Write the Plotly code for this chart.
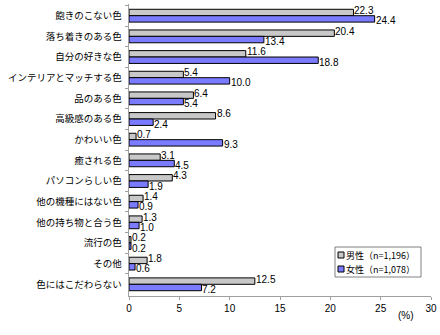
import plotly.graph_objects as go

# 色を選ぶ際に重視する点（%）
categories = [
    "飽きのこない色", "落ち着きのある色", "自分の好きな色", "インテリアとマッチする色",
    "品のある色", "高級感のある色", "かわいい色", "癒される色", "パソコンらしい色",
    "他の機種にはない色", "他の持ち物と合う色", "流行の色", "その他", "色にはこだわらない",
]
male = [22.3, 20.4, 11.6, 5.4, 6.4, 8.6, 0.7, 3.1, 4.3, 1.4, 1.3, 0.2, 1.8, 12.5]
female = [24.4, 13.4, 18.8, 10.0, 5.4, 2.4, 9.3, 4.5, 1.9, 0.9, 1.0, 0.2, 0.6, 7.2]
male_name = "男性（n=1,196）"
female_name = "女性（n=1,078）"
x_ticks = [0, 5, 10, 15, 20, 25, 30]

MALE_COLOR = "#C8C8C8"
FEMALE_COLOR = "#7B7BFF"
num_font = dict(family="Liberation Sans, Arial, sans-serif", size=10, color="#000000")
jp_font = "Noto Sans CJK JP, sans-serif"

W, H = 440, 335
M = dict(l=129, r=9, t=4, b=39)
PW, PH = W - M["l"] - M["r"], H - M["t"] - M["b"]


def px(x):
    return (x - M["l"]) / PW


def py(y):
    return (H - M["b"] - y) / PH


fig = go.Figure()
fig.add_trace(go.Bar(
    y=categories, x=male, orientation="h", name=male_name, showlegend=False,
    marker=dict(color=MALE_COLOR, line=dict(color="#000000", width=1)),
))
fig.add_trace(go.Bar(
    y=categories, x=female, orientation="h", name=female_name, showlegend=False,
    marker=dict(color=FEMALE_COLOR, line=dict(color="#000000", width=1)),
))

# value labels at the end of each bar: male raised, female lowered
annotations = []
for cat, m, f in zip(categories, male, female):
    annotations.append(dict(
        x=m, y=cat, xref="x", yref="y", text=f"{m:.1f}", showarrow=False,
        xanchor="left", yanchor="middle", borderpad=0, yshift=5.2, font=num_font,
    ))
    annotations.append(dict(
        x=f, y=cat, xref="x", yref="y", text=f"{f:.1f}", showarrow=False,
        xanchor="left", yanchor="middle", borderpad=0, yshift=-5.2, font=num_font,
    ))
annotations.append(dict(
    text="(%)", x=px(416), y=py(323), xref="paper", yref="paper",
    showarrow=False, font=dict(family="Liberation Sans, Arial, sans-serif", size=10),
))

# legend box
shapes = [dict(
    type="rect", xref="paper", yref="paper",
    x0=px(335), x1=px(421), y0=py(277), y1=py(247),
    line=dict(color="#808080", width=1), fillcolor="#FFFFFF", layer="above",
)]
for name, color, yc in [(male_name, MALE_COLOR, 255), (female_name, FEMALE_COLOR, 269)]:
    shapes.append(dict(
        type="rect", xref="paper", yref="paper",
        x0=px(338), x1=px(344), y0=py(yc + 3), y1=py(yc - 3),
        line=dict(color="#000000", width=1), fillcolor=color, layer="above",
    ))
    annotations.append(dict(
        text=name, x=px(345), y=py(yc), xref="paper", yref="paper",
        xanchor="left", yanchor="middle", showarrow=False, borderpad=0,
        font=dict(family=jp_font, size=9, color="#000000"),
    ))

fig.update_layout(
    width=W, height=H, margin=M,
    paper_bgcolor="#FFFFFF", plot_bgcolor="#FFFFFF",
    barmode="group", bargap=0.38, bargroupgap=0,
    font=dict(family=jp_font, size=10, color="#000000"),
    annotations=annotations, shapes=shapes,
)
fig.update_xaxes(
    range=[0, 30], tickvals=x_ticks, showgrid=False, zeroline=False,
    showline=True, linecolor="#A0A0A0", linewidth=1,
    ticks="outside", ticklen=3, tickcolor="#A0A0A0",
    tickfont=dict(family="Liberation Sans, Arial, sans-serif", size=10),
)
fig.update_yaxes(
    autorange="reversed", showgrid=False, zeroline=False,
    showline=True, linecolor="#A0A0A0", linewidth=1,
    ticks="outside", ticklen=3, tickcolor="#A0A0A0", tickson="boundaries",
    ticksuffix="\u00a0\u00a0",
    tickfont=dict(family=jp_font, size=9.5),
)

fig.write_html("out.html")
